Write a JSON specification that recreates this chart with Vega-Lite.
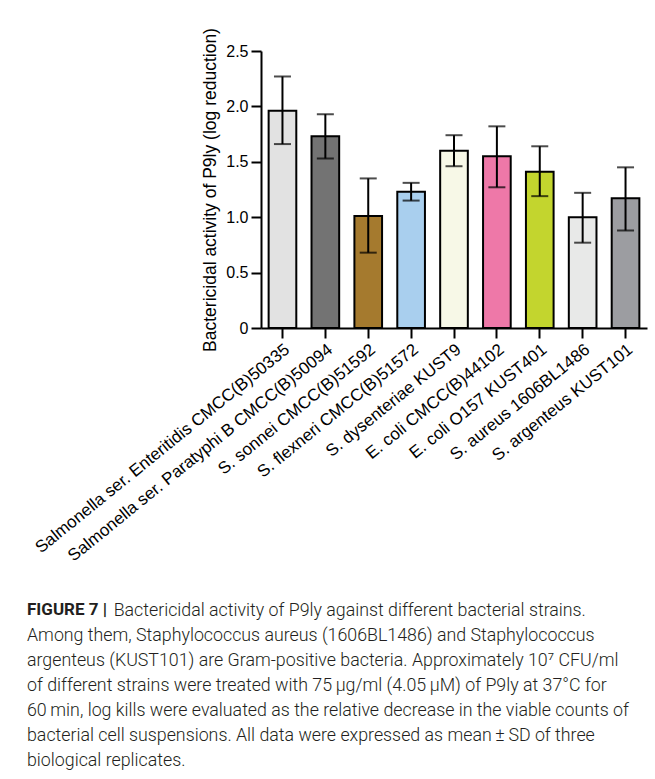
{
  "$schema": "https://vega.github.io/schema/vega-lite/v6.json",
  "autosize": {"type": "none"},
  "width": 386,
  "height": 277,
  "padding": {"left": 261, "top": 51, "right": 8, "bottom": 451},
  "background": "white",
  "config": {
    "view": {"stroke": null},
    "font": "Liberation Sans",
    "axis": {
      "labelFont": "Liberation Sans",
      "titleFont": "Liberation Sans",
      "labelColor": "#000000",
      "titleColor": "#000000",
      "domainColor": "#000000",
      "tickColor": "#000000",
      "domainWidth": 2,
      "tickWidth": 2,
      "tickSize": 10,
      "labelFontSize": 16,
      "titleFontSize": 17.5,
      "titleFontWeight": "normal",
      "grid": false
    }
  },
  "title": {
    "text": "FIGURE 7 |",
    "subtitle": [
      "\u200b\u00a0\u00a0\u00a0\u00a0\u00a0\u00a0\u00a0\u00a0\u00a0\u00a0\u00a0\u00a0\u00a0\u00a0\u00a0\u00a0\u00a0\u00a0\u00a0\u00a0Bactericidal activity of P9ly against different bacterial strains.",
      "Among them, Staphylococcus aureus (1606BL1486) and Staphylococcus",
      "argenteus (KUST101) are Gram-positive bacteria. Approximately 10\u2077 CFU/ml",
      "of different strains were treated with 75\u2009\u03bcg/ml (4.05\u2009\u03bcM) of P9ly at 37\u00b0C for",
      "60\u2009min, log kills were evaluated as the relative decrease in the viable counts of",
      "bacterial cell suspensions. All data were expressed as mean\u2009\u00b1\u2009SD of three",
      "biological replicates."
    ],
    "orient": "bottom",
    "anchor": "start",
    "frame": "group",
    "dx": -234,
    "offset": 38,
    "font": "Roboto",
    "fontSize": 17,
    "fontWeight": "bold",
    "color": "#231f20",
    "subtitleFont": "Roboto",
    "subtitleFontSize": 17.8,
    "subtitleFontWeight": 300,
    "subtitleColor": "#231f20",
    "subtitleLineHeight": 25,
    "subtitlePadding": -17
  },
  "data": {
    "values": [
      {"strain": "Salmonella ser. Enteritidis CMCC(B)50335", "mean": 1.96, "lo": 1.66, "hi": 2.27},
      {"strain": "Salmonella ser. Paratyphi B CMCC(B)50094", "mean": 1.73, "lo": 1.53, "hi": 1.93},
      {"strain": "S. sonnei CMCC(B)51592", "mean": 1.01, "lo": 0.68, "hi": 1.35},
      {"strain": "S. flexneri CMCC(B)51572", "mean": 1.23, "lo": 1.15, "hi": 1.31},
      {"strain": "S. dysenteriae KUST9", "mean": 1.60, "lo": 1.46, "hi": 1.74},
      {"strain": "E. coli CMCC(B)44102", "mean": 1.55, "lo": 1.27, "hi": 1.82},
      {"strain": "E. coli O157 KUST401", "mean": 1.41, "lo": 1.19, "hi": 1.64},
      {"strain": "S. aureus 1606BL1486", "mean": 1.00, "lo": 0.77, "hi": 1.22},
      {"strain": "S. argenteus KUST101", "mean": 1.17, "lo": 0.88, "hi": 1.45}
    ]
  },
  "encoding": {
    "x": {
      "field": "strain",
      "type": "nominal",
      "sort": null,
      "scale": {"paddingInner": 0.355, "paddingOuter": 0.178},
      "axis": {"title": null, "labelAngle": -39, "labelAlign": "right", "labelBaseline": "top", "labelPadding": 3, "labelLimit": 400, "labelFontSize": 17}
    }
  },
  "layer": [
    {
      "mark": {"type": "bar", "stroke": "#000000", "strokeWidth": 2},
      "encoding": {
        "y": {
          "field": "mean",
          "type": "quantitative",
          "scale": {"domain": [0, 2.5], "nice": false},
          "axis": {
            "title": "Bactericidal activity of P9ly (log reduction)",
            "values": [0, 0.5, 1, 1.5, 2, 2.5],
            "labelExpr": "datum.value == 0 ? '0' : format(datum.value, '.1f')",
            "labelPadding": 3,
            "titlePadding": 6
          }
        },
        "color": {
          "field": "strain",
          "type": "nominal",
          "sort": null,
          "legend": null,
          "scale": {
            "domain": [
              "Salmonella ser. Enteritidis CMCC(B)50335",
              "Salmonella ser. Paratyphi B CMCC(B)50094",
              "S. sonnei CMCC(B)51592",
              "S. flexneri CMCC(B)51572",
              "S. dysenteriae KUST9",
              "E. coli CMCC(B)44102",
              "E. coli O157 KUST401",
              "S. aureus 1606BL1486",
              "S. argenteus KUST101"
            ],
            "range": ["#e2e2e2", "#737373", "#a57a2e", "#a9cfee", "#f7f8e7", "#ee78a8", "#c3d52e", "#e8e9e8", "#9c9da1"]
          }
        }
      }
    },
    {
      "mark": {"type": "rule", "color": "#000000", "strokeWidth": 2},
      "encoding": {
        "y": {"field": "lo", "type": "quantitative"},
        "y2": {"field": "hi"}
      }
    },
    {
      "mark": {"type": "tick", "color": "#000000", "thickness": 2, "size": 17, "orient": "horizontal"},
      "encoding": {"y": {"field": "hi", "type": "quantitative"}}
    },
    {
      "mark": {"type": "tick", "color": "#000000", "thickness": 2, "size": 17, "orient": "horizontal"},
      "encoding": {"y": {"field": "lo", "type": "quantitative"}}
    }
  ]
}
